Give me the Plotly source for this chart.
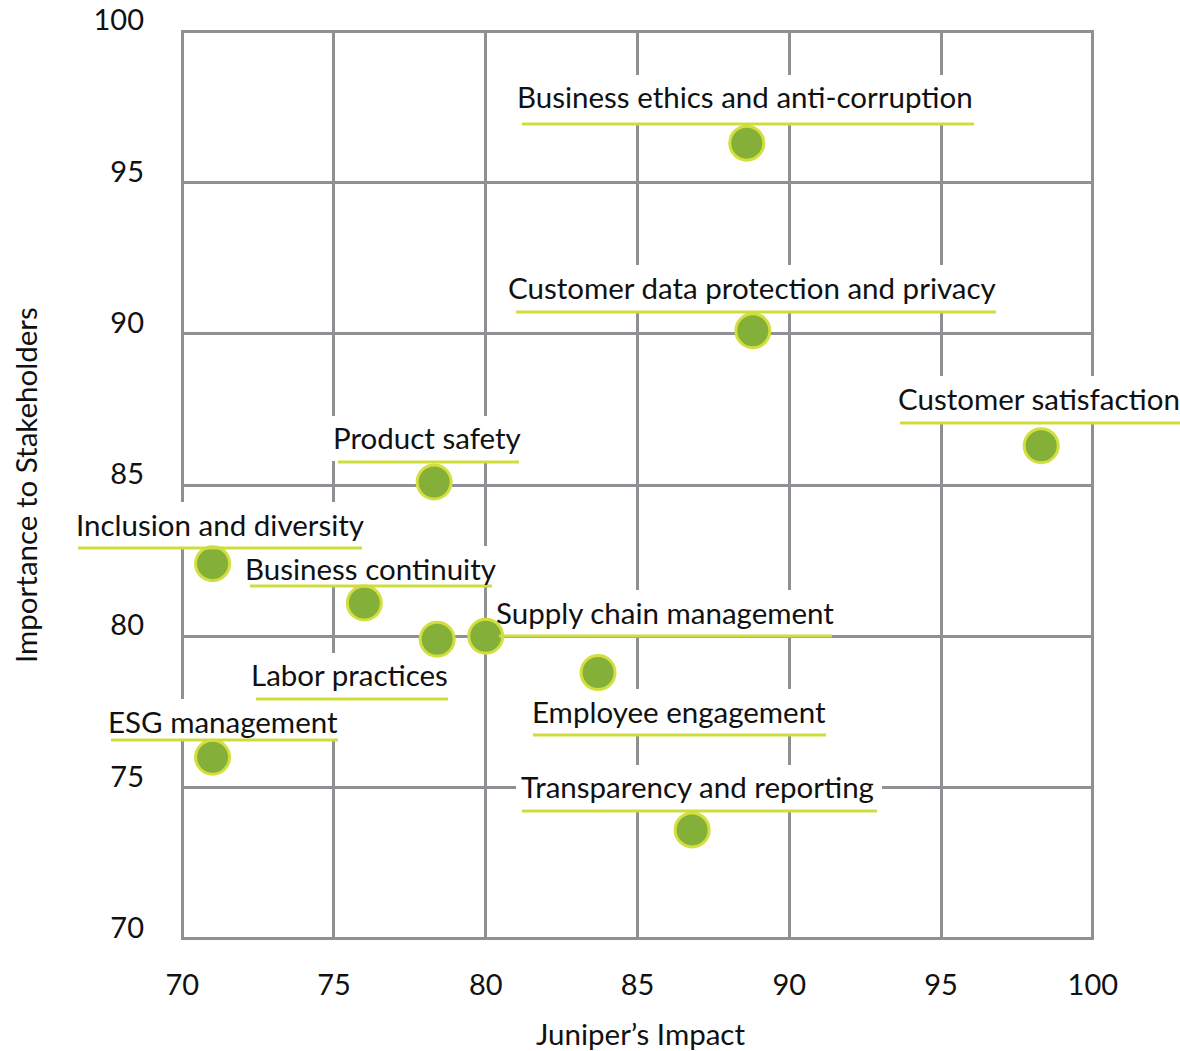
import plotly.graph_objects as go

# ---------------- data ----------------
topics = [
    "Business ethics and anti-corruption",
    "Customer data protection and privacy",
    "Customer satisfaction",
    "Product safety",
    "Inclusion and diversity",
    "Business continuity",
    "Labor practices",
    "Supply chain management",
    "Employee engagement",
    "ESG management",
    "Transparency and reporting",
]
impact = [88.6, 88.8, 98.3, 78.3, 71.0, 76.0, 78.4, 80.0, 83.7, 71.0, 86.8]
importance = [96.3, 90.1, 86.3, 85.1, 82.4, 81.1, 79.9, 80.0, 78.8, 76.0, 73.6]
tick_vals = [70, 75, 80, 85, 90, 95, 100]
x_title = "Juniper’s Impact"
y_title = "Importance to Stakeholders"

# ---------------- layout (label placement, in page pixels) ----------------
W, H = 1180, 1051
ML, MR, MT, MB = 181, 86, 30, 111
PW, PH = W - ML - MR, H - MT - MB
# tiny padding so the grid lines at 70 and 100 are drawn
XR, YR = (69.96, 100.04), (69.96, 100.04)

# text centre x, text centre y, underline y, underline x0, underline x1
label_cx = [745, 752, 1039, 427, 220, 370, 349, 665, 679, 223, 697]
label_cy = [97, 287, 398, 438, 524, 568, 675, 612, 711, 721, 787]
under_y = [124, 312, 423, 462, 548, 586, 699, 636, 735, 740, 811]
under_x0 = [522, 516, 900, 338, 78, 250, 256, 499, 533, 111, 522]
under_x1 = [974, 996, 1180, 519, 362, 492, 448, 832, 826, 338, 877]

GRID = "#8e9093"
FILL = "#84b03a"
RING = "#d2df3e"
ULINE = "#cfdd3c"
FONT = "Lato, 'Open Sans', sans-serif"
TXT = "#111111"
LABEL_SIZE = 29.5


def px2x(px):
    return (px - ML) / PW


def px2y(py):
    return (MT + PH - py) / PH


def px2dx(px):
    return XR[0] + px2x(px) * (XR[1] - XR[0])


def px2dy(py):
    return YR[0] + px2y(py) * (YR[1] - YR[0])


fig = go.Figure()
fig.add_trace(go.Scatter(
    x=impact, y=importance, mode="markers", text=topics,
    hoverinfo="text",
    marker=dict(size=34, color=FILL, line=dict(color=RING, width=3)),
    cliponaxis=False, showlegend=False,
))

shapes = []
annotations = []
for i, t in enumerate(topics):
    bx0, bx1 = under_x0[i] - 6, under_x1[i] + 5
    by0, by1 = label_cy[i] - 22, under_y[i] - 1
    # white background box: above grid, below markers
    shapes.append(dict(
        type="rect", xref="x", yref="y", layer="between",
        x0=px2dx(bx0), x1=px2dx(bx1), y0=px2dy(by1), y1=px2dy(by0),
        fillcolor="white", line=dict(width=0),
    ))
    # parts of the box that stick out of the plot area (no markers there)
    if bx0 < ML + 2:
        shapes.append(dict(
            type="rect", xref="paper", yref="paper", layer="above",
            x0=px2x(bx0), x1=px2x(ML + 2), y0=px2y(by1), y1=px2y(by0),
            fillcolor="white", line=dict(width=0),
        ))
    if bx1 > ML + PW - 2:
        shapes.append(dict(
            type="rect", xref="paper", yref="paper", layer="above",
            x0=px2x(ML + PW - 2), x1=px2x(bx1), y0=px2y(by1), y1=px2y(by0),
            fillcolor="white", line=dict(width=0),
        ))
    shapes.append(dict(
        type="line", xref="paper", yref="paper", layer="above",
        x0=px2x(under_x0[i]), x1=px2x(under_x1[i]),
        y0=px2y(under_y[i]), y1=px2y(under_y[i]),
        line=dict(color=ULINE, width=3),
    ))
    annotations.append(dict(
        text=t, xref="paper", yref="paper",
        x=px2x(label_cx[i]), y=px2y(label_cy[i]),
        xanchor="center", yanchor="middle", showarrow=False,
        font=dict(family=FONT, size=LABEL_SIZE, color=TXT),
    ))

annotations.append(dict(
    text=x_title, xref="paper", yref="paper", x=px2x(640), y=px2y(1033),
    xanchor="center", yanchor="middle", showarrow=False,
    font=dict(family=FONT, size=LABEL_SIZE, color=TXT),
))
annotations.append(dict(
    text=y_title, xref="paper", yref="paper", x=px2x(25), y=px2y(485),
    xanchor="center", yanchor="middle", showarrow=False, textangle=-90,
    font=dict(family=FONT, size=LABEL_SIZE, color=TXT),
))

axis_common = dict(
    tickvals=tick_vals, ticktext=[str(v) for v in tick_vals],
    showgrid=True, gridcolor=GRID, gridwidth=3, zeroline=False,
    showline=False, ticks="", tickfont=dict(family=FONT, size=29, color=TXT),
    fixedrange=True, automargin=False,
)
fig.update_layout(
    width=W, height=H,
    margin=dict(l=ML, r=MR, t=MT, b=MB, pad=0, autoexpand=False),
    paper_bgcolor="white", plot_bgcolor="white",
    xaxis=dict(**axis_common, range=list(XR), ticklabelstandoff=25),
    yaxis=dict(**axis_common, range=list(YR), ticklabelstandoff=36,
               ticklabelshift=-11),
    shapes=shapes, annotations=annotations,
    font=dict(family=FONT),
)

fig.write_html(
    "out.html",
    config={"displayModeBar": False},
    post_script="document.body.style.margin='0';document.body.style.padding='0';",
)
